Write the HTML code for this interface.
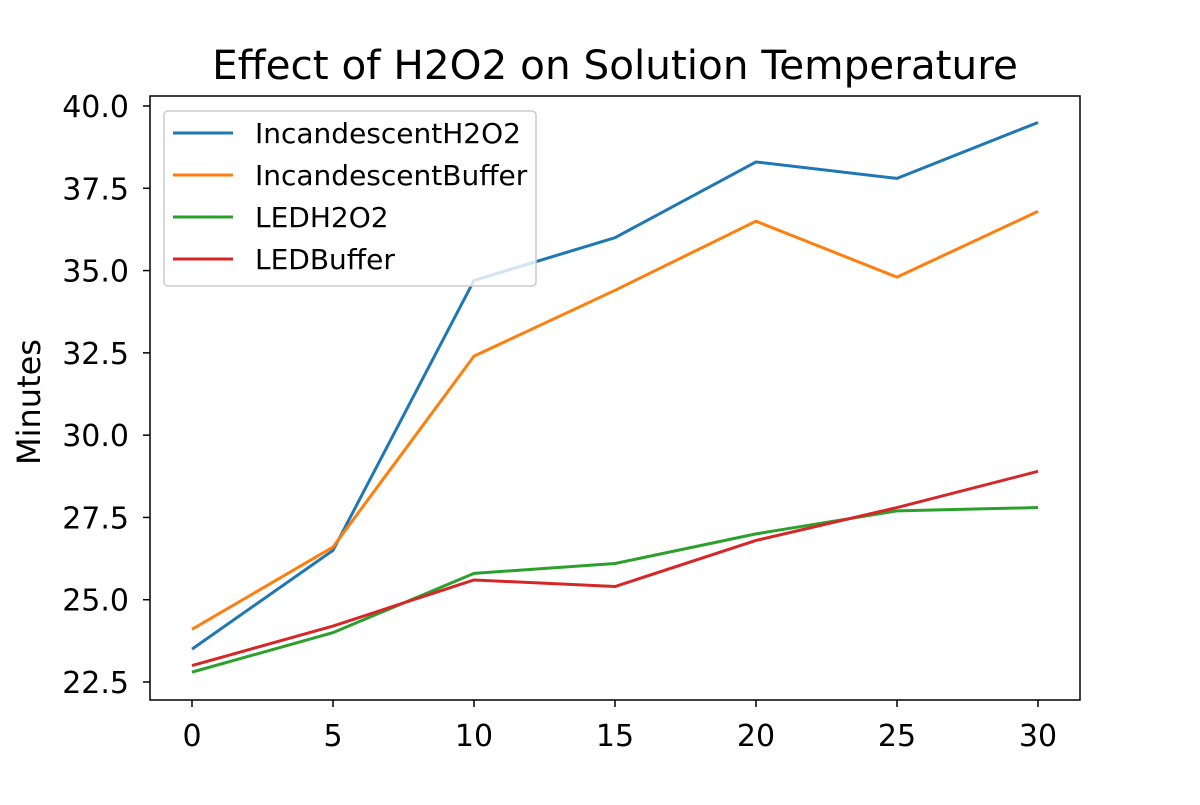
<!DOCTYPE html>
<html><head><meta charset="utf-8"><style>
body{margin:0;background:#fff;}
svg text{font-family:"DejaVu Sans","Liberation Sans",sans-serif;fill:#000;}
</style></head><body>
<svg id="chart" width="1200" height="800" xmlns="http://www.w3.org/2000/svg">
<rect width="1200" height="800" fill="#fff"/>
<text x="615" y="79" font-size="40.5" text-anchor="middle">Effect of H2O2 on Solution Temperature</text>
<text transform="translate(40,402) rotate(-90)" font-size="32" text-anchor="middle">Minutes</text>
<g id="plot"></g>
<rect x="150" y="96" width="930" height="604" fill="none" stroke="#000" stroke-width="1.5"/>
<g id="legend"></g>
</svg>
<script>
const xValues=[0,5,10,15,20,25,30];
const seriesNames=["IncandescentH2O2","IncandescentBuffer","LEDH2O2","LEDBuffer"];
const incH2O2=[23.5,26.5,34.7,36.0,38.3,37.8,39.5];
const incBuffer=[24.1,26.6,32.4,34.4,36.5,34.8,36.8];
const ledH2O2=[22.8,24.0,25.8,26.1,27.0,27.7,27.8];
const ledBuffer=[23.0,24.2,25.6,25.4,26.8,27.8,28.9];
const xTicks=[0,5,10,15,20,25,30];
const yTicks=[22.5,25.0,27.5,30.0,32.5,35.0,37.5,40.0];
const yTickLabels=["22.5","25.0","27.5","30.0","32.5","35.0","37.5","40.0"];
const colors=["#1f77b4","#ff7f0e","#2ca02c","#d62728"];
const allSeries=[incH2O2,incBuffer,ledH2O2,ledBuffer];
const NS="http://www.w3.org/2000/svg";
const sx=v=>192+(v-0)*(1038-192)/30;
const sy=v=>682-(v-22.5)*(682-106)/17.5;
const plot=document.getElementById('plot');
function mk(t,a,p){const e=document.createElementNS(NS,t);for(const k in a)e.setAttribute(k,a[k]);(p||plot).appendChild(e);return e;}
xTicks.forEach(t=>{
  const l=mk('line',{x1:sx(t),x2:sx(t),y1:700,y2:707,stroke:'#000','stroke-width':1.5});
  
  
  const tx=mk('text',{x:sx(t),y:746,'font-size':30,'text-anchor':'middle'});
  tx.textContent=t;
  
  
});
yTicks.forEach((t,i)=>{
  const l=mk('line',{x1:143,x2:150,y1:sy(t),y2:sy(t),stroke:'#000','stroke-width':1.5});
  
  
  const tx=mk('text',{x:129,y:sy(t)+11,'font-size':30,'text-anchor':'end'});
  tx.textContent=yTickLabels[i];
  
  
});
allSeries.forEach((s,i)=>{
  const pts=s.map((v,j)=>sx(xValues[j])+','+sy(v)).join(' ');
  const p=mk('polyline',{points:pts,fill:'none',stroke:colors[i],'stroke-width':3,'stroke-linejoin':'round'});
  
  
});
const lg=document.getElementById('legend');
const box=mk('rect',{x:164,y:111,width:372,height:175,rx:4,fill:'#fff','fill-opacity':0.8,stroke:'#ccc','stroke-width':1.5},lg);


seriesNames.forEach((n,i)=>{
  const y=133+i*42;
  const l=mk('line',{x1:173,x2:233,y1:y,y2:y,stroke:colors[i],'stroke-width':3},lg);
  
  
  const t=mk('text',{x:255,y:y+10,'font-size':28},lg);
  t.textContent=n;
  
  
});
</script>
</body></html>
